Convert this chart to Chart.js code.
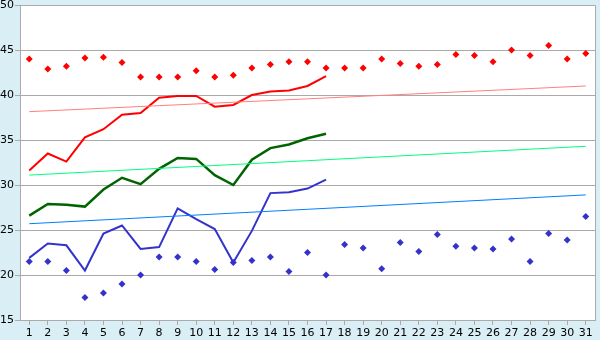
<!DOCTYPE html>
<html>
<head>
<meta charset="utf-8">
<script src="https://cdn.jsdelivr.net/npm/chart.js@4/dist/chart.umd.min.js"></script>
<style>
  html, body { margin: 0; padding: 0; background: #daeef5; }
  canvas { display: block; }
</style>
</head>
<body>
<canvas id="chart" width="600" height="340"></canvas>
<script>
const days = ['1','2','3','4','5','6','7','8','9','10','11','12','13','14','15','16','17','18','19','20','21','22','23','24','25','26','27','28','29','30','31'];

// daily highs / lows (diamonds)
const highs = [44.0, 42.9, 43.2, 44.1, 44.2, 43.6, 42.0, 42.0, 42.0, 42.7, 42.0, 42.2, 43.0, 43.4, 43.7, 43.7, 43.0, 43.0, 43.0, 44.0, 43.5, 43.2, 43.4, 44.5, 44.4, 43.7, 45.0, 44.4, 45.5, 44.0, 44.6];
const lows = [21.5, 21.5, 20.5, 17.5, 18.0, 19.0, 20.0, 22.0, 22.0, 21.5, 20.6, 21.4, 21.6, 22.0, 20.4, 22.5, 20.0, 23.4, 23.0, 20.7, 23.6, 22.6, 24.5, 23.2, 23.0, 22.9, 24.0, 21.5, 24.6, 23.9, 26.5];

// lines, first 17 days only
const redLine = [31.6, 33.5, 32.6, 35.3, 36.2, 37.8, 38.0, 39.7, 39.9, 39.9, 38.7, 38.9, 40.0, 40.4, 40.5, 41.0, 42.1];
const greenLine = [26.6, 27.9, 27.8, 27.6, 29.5, 30.8, 30.1, 31.8, 33.0, 32.9, 31.1, 30.0, 32.8, 34.1, 34.5, 35.2, 35.7];
const blueLine = [21.9, 23.5, 23.3, 20.5, 24.6, 25.5, 22.9, 23.1, 27.4, 26.2, 25.1, 21.4, 24.9, 29.1, 29.2, 29.6, 30.6];

// trend lines: value at day 1 and day 31
const redTrend = [38.15, 41.0];
const greenTrend = [31.1, 34.3];
const blueTrend = [25.7, 28.9];

const yTicks = [15, 20, 25, 30, 35, 40, 45, 50];

function trendData(ends) {
  const arr = days.map(() => null);
  arr[0] = ends[0];
  arr[days.length - 1] = ends[1];
  return arr;
}

function lineSet(data, color, width) {
  return { type: 'line', data: data, borderColor: color, borderWidth: width, pointRadius: 0, tension: 0, fill: false };
}

function dotSet(data, color) {
  return { type: 'line', data: data, showLine: false, pointStyle: 'rectRot', pointRadius: 3.5, pointBackgroundColor: color, pointBorderColor: color, pointBorderWidth: 0 };
}

const plotArea = {
  id: 'plotArea',
  beforeDraw(chart) {
    const a = chart.chartArea, c = chart.ctx;
    c.save();
    c.fillStyle = '#ffffff';
    c.fillRect(a.left, a.top, a.right - a.left, a.bottom - a.top);
    c.restore();
  },
  afterDraw(chart) {
    const a = chart.chartArea, c = chart.ctx;
    c.save();
    c.strokeStyle = '#aaaaaa';
    c.lineWidth = 1;
    c.beginPath();
    c.moveTo(a.left, a.top + 0.5);
    c.lineTo(a.right + 0.5, a.top + 0.5);
    c.lineTo(a.right + 0.5, a.bottom);
    c.stroke();
    c.restore();
  }
};

Chart.defaults.font.family = 'DejaVu Sans';
Chart.defaults.font.size = 11;
Chart.defaults.color = '#000000';

new Chart(document.getElementById('chart').getContext('2d'), {
  data: {
    labels: days,
    datasets: [
      lineSet(trendData(redTrend), '#ff8080', 1),
      lineSet(trendData(greenTrend), '#00ff80', 1),
      lineSet(trendData(blueTrend), '#0080ff', 1),
      dotSet(highs, '#ff0000'),
      dotSet(lows, '#3333cc'),
      lineSet(redLine, '#ff0000', 2),
      lineSet(greenLine, '#006400', 2.5),
      lineSet(blueLine, '#3333cc', 2)
    ].map(d => Object.assign(d, { spanGaps: true }))
  },
  options: {
    responsive: false,
    animation: false,
    devicePixelRatio: 1,
    layout: { padding: { top: 5, right: 5, left: 0, bottom: 0 } },
    plugins: { legend: { display: false }, tooltip: { enabled: false } },
    scales: {
      x: {
        type: 'category',
        offset: true,
        grid: { display: true, drawOnChartArea: false, offset: false, tickLength: 5, color: '#aaaaaa' },
        border: { color: '#aaaaaa' },
        ticks: { padding: 2, maxRotation: 0, autoSkip: false },
        afterFit(scale) { scale.height = 20; scale.paddingLeft = 0; scale.paddingRight = 0; }
      },
      y: {
        min: 15,
        max: 50,
        afterBuildTicks(scale) { scale.ticks = yTicks.map(v => ({ value: v })); },
        grid: { color: '#aaaaaa', tickLength: 5 },
        border: { color: '#aaaaaa' },
        ticks: { padding: 1 },
        afterFit(scale) { scale.width = 20; scale.paddingTop = 0; scale.paddingBottom = 0; }
      }
    }
  },
  plugins: [plotArea]
});
</script>
</body>
</html>
